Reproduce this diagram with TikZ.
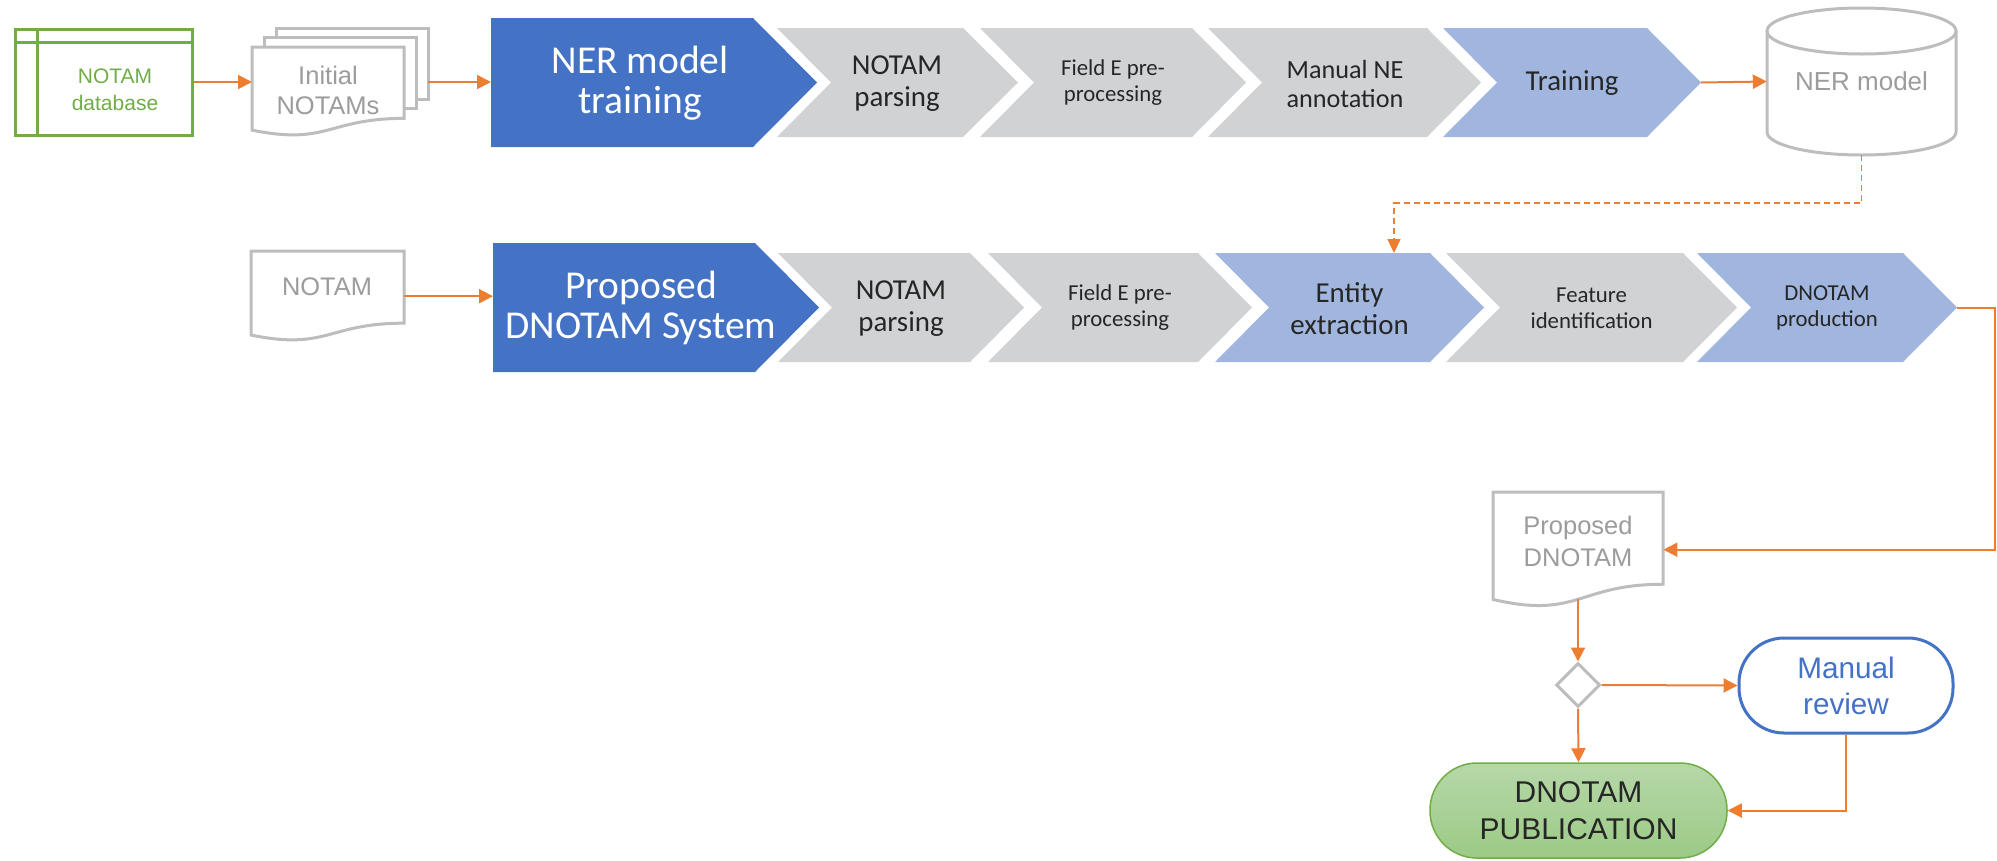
\documentclass[tikz,border=0pt]{standalone}
\usepackage{fontspec}
\setmainfont{Liberation Sans}
\newfontfamily\calib{Carlito}
\usetikzlibrary{arrows.meta,shapes.geometric}
\definecolor{orng}{HTML}{ED7D31}
\definecolor{dblue}{HTML}{4472C4}
\definecolor{lblue}{HTML}{A1B6DE}
\definecolor{lgray}{HTML}{D1D2D4}
\definecolor{txt}{HTML}{262626}
\definecolor{shgray}{HTML}{BDBDBF}
\definecolor{tgray}{HTML}{9C9C9C}
\definecolor{grn}{HTML}{70AD47}
\definecolor{pubtop}{HTML}{B6D8A8}
\definecolor{pubbot}{HTML}{9CCA86}
\newcommand\docnode[5]{%
  \node[inner sep=0, minimum width=#4pt, minimum height=#5pt, anchor=north west] (#1) at (#2,#3) {};
  \draw[docline] (#2,#3) -- ({#2+#4},#3) -- ({#2+#4},{#3+0.802*#5})
    .. controls ({#2+#4/2},{#3+0.802*#5}) and ({#2+#4/2},{#3+1.1075*#5}) .. (#2,{#3+0.934*#5}) -- cycle;
}
\begin{document}
\begin{tikzpicture}[x=1pt,y=-1pt,
  conn/.style={draw=orng, line width=2pt, -{Triangle[length=14pt,width=14pt]}},
  dashconn/.style={draw=orng, line width=1.6pt, dash pattern=on 6pt off 4pt, -{Triangle[length=14pt,width=13pt]}},
  docline/.style={draw=shgray, line width=3pt, fill=white, line join=miter},
  bigtxt/.style={align=center, inner sep=0, text=white, font=\calib\fontsize{39.5}{40}\selectfont},
  ctA/.style={align=center, inner sep=0, text=txt, font=\calib\fontsize{28.9}{32}\selectfont},
  ctM/.style={align=center, inner sep=0, text=txt, font=\calib\fontsize{26.2}{29}\selectfont},
  ctB/.style={align=center, inner sep=0, text=txt, font=\calib\fontsize{22.8}{26}\selectfont},
  dtxt/.style={align=center, inner sep=0, text=tgray}
]
\useasboundingbox (0,0) rectangle (1997,860);

% ---------- Row 1 ----------
\node[draw=grn, line width=3pt, minimum width=177pt, minimum height=106pt, inner sep=0] (db) at (103.5,82) {};
\draw[grn, line width=3pt] (37,29) -- (37,135) (15,42) -- (192,42);
\node[align=center, inner sep=0, text=grn, font=\fontsize{21}{27}\selectfont] (dbt) at (115,90) {NOTAM\\database};

% Initial NOTAMs (multi-document)
\draw[docline, fill=none] (276,37) -- (276,28) -- (428,28) -- (428,99) -- (416,99);
\draw[docline, fill=none] (264,47) -- (264,37) -- (416,37) -- (416,108) -- (404,108);
\docnode{initdoc}{252}{47}{152}{89}
\node[dtxt, font=\fontsize{25.5}{30}\selectfont] (initt) at (328,90) {Initial\\NOTAMs};
\coordinate (initW) at (252,82);
\coordinate (initE) at (428,82);

% chevrons row 1
\fill[dblue] (491,18)--(753,18)--(817,82.5)--(753,147)--(491,147)--cycle;
\fill[lgray] (777,28)--(963,28)--(1018,82.5)--(963,137)--(777,137)--(831,82.5)--cycle;
\fill[lgray] (980,28)--(1192,28)--(1246,82.5)--(1192,137)--(980,137)--(1034,82.5)--cycle;
\fill[lgray] (1208,28)--(1427,28)--(1481,82.5)--(1427,137)--(1208,137)--(1262,82.5)--cycle;
\fill[lblue] (1443,28)--(1647,28)--(1701,82.5)--(1647,137)--(1443,137)--(1497,82.5)--cycle;
\coordinate (nerW) at (491,82.5);
\coordinate (trTip) at (1701,82.5);
\node[bigtxt] (ner) at (640,83) {NER model\\training};
\node[ctA] (p1) at (897,84) {NOTAM\\parsing};
\node[ctB] (f1) at (1113,83) {Field E pre-\\processing};
\node[ctM] (m1) at (1345,84) {Manual NE\\annotation};
\node[ctA] (tr) at (1572,83) {Training};

% NER model cylinder
\draw[shgray, line width=3pt, fill=white] (1767,31) -- (1767,132)
  arc[start angle=180, end angle=360, x radius=94.5pt, y radius=23pt] -- (1956,31);
\draw[shgray, line width=3pt] (1861.5,31) ellipse [x radius=94.5pt, y radius=23pt];
\node[inner sep=0, minimum width=189pt, minimum height=147pt, text=tgray, font=\fontsize{26}{30}\selectfont] (cyl) at (1861.5,81.5) {NER model};

% ---------- Row 2 ----------
\docnode{ndoc}{251}{251}{153}{90}
\node[dtxt, font=\fontsize{25.4}{30}\selectfont] (ndt) at (327,287) {NOTAM};

\fill[dblue] (493,243)--(755,243)--(819,307.5)--(755,372)--(493,372)--cycle;
\fill[lgray] (778,253)--(970,253)--(1024,307.5)--(970,362)--(778,362)--(832,307.5)--cycle;
\fill[lgray] (988,253)--(1198,253)--(1252,307.5)--(1198,362)--(988,362)--(1042,307.5)--cycle;
\fill[lblue] (1215,253)--(1430,253)--(1484,307.5)--(1430,362)--(1215,362)--(1269,307.5)--cycle;
\fill[lgray] (1446,253)--(1683,253)--(1737,307.5)--(1683,362)--(1446,362)--(1500,307.5)--cycle;
\fill[lblue] (1697,253)--(1903,253)--(1957,307.5)--(1903,362)--(1697,362)--(1751,307.5)--cycle;
\coordinate (propW) at (493,307.5);
\coordinate (entTop) at (1394,253);
\coordinate (dpTip) at (1957,307.5);
\node[bigtxt] (prop) at (641,308) {Proposed\\DNOTAM System};
\node[ctA] (p2) at (901,309) {NOTAM\\parsing};
\node[ctB] (f2) at (1120,308) {Field E pre-\\processing};
\node[ctA] (ent) at (1349.5,309) {Entity\\extraction};
\node[ctB] (feat) at (1591.5,308) {Feature\\identification};
\node[ctB] (dprod) at (1827,308) {DNOTAM\\production};

% ---------- Row 3 ----------
\docnode{pdoc}{1493}{492}{170}{115}
\node[dtxt, font=\fontsize{25.5}{32}\selectfont] (pdt) at (1578,541) {Proposed\\DNOTAM};
\coordinate (pdocS) at (1578,599);

\node[diamond, draw=shgray, line width=3pt, minimum width=44pt, minimum height=44pt, inner sep=0] (dia) at (1578,685) {};
\node[draw=dblue, line width=3pt, fill=white, rounded corners=45pt, minimum width=214pt, minimum height=95pt, inner sep=0,
  text=dblue, align=center, font=\fontsize{29.7}{36}\selectfont] (man) at (1846,685.5) {Manual\\review};
\node[draw=grn, line width=1.5pt, rounded corners=47pt, top color=pubtop, bottom color=pubbot, minimum width=297pt, minimum height=95pt, inner sep=0,
  text=txt, align=center, font=\fontsize{30}{37}\selectfont] (pub) at (1578.5,810.5) {DNOTAM\\PUBLICATION};

% ---------- Connectors ----------
\draw[conn] (db.east) -- (initW);
\draw[conn] (initE) -- (initE -| nerW);
\draw[conn] (trTip) -- (cyl.west);
\draw[dashconn] (cyl.south) -- ++(0,48) -| (entTop);
\draw[conn] (ndoc.east) -- (ndoc.east -| propW);
\draw[conn] (dpTip) -- ++(38,0) |- (pdoc.east);
\draw[conn] (pdocS) -- (dia.north);
\draw[conn] (dia.east) -- (man.west);
\draw[conn] (dia.south) -- (pub.north);
\draw[conn] (man.south) |- (pub.east);
\end{tikzpicture}
\end{document}
